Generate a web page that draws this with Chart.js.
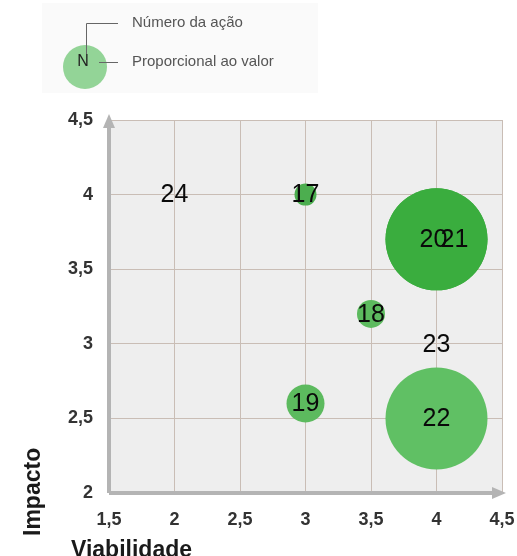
<!DOCTYPE html>
<html>
<head>
<meta charset="utf-8">
<script src="https://cdn.jsdelivr.net/npm/chart.js@4"></script>
<style>
  html, body { margin: 0; padding: 0; background: #fff; }
  #wrap { width: 517px; height: 556px; }
</style>
</head>
<body>
<div id="wrap"><canvas id="bubbleChart"></canvas></div>
<script>
// Ações (número), viabilidade (x), impacto (y), valor (raio da bolha)
const actions = ['17', '18', '19', '20', '21', '22', '23', '24'];
const viabilidade = [3, 3.5, 3, 4, 4, 4, 4, 2];
const impacto = [4, 3.2, 2.6, 3.7, 3.7, 2.5, 3, 4];
const valor = [11, 14, 19, 51, 51, 51, 0, 0];
const xTicks = [1.5, 2, 2.5, 3, 3.5, 4, 4.5];
const yTicks = [2, 2.5, 3, 3.5, 4, 4.5];

const bubbleColors = ['#4cae4f', '#5cba5e', '#5cba5e', '#3aad3e', '#3aad3e', '#60c064', '#5cba5e', '#5cba5e'];
// small nudges so "20" and "21" overlap like in the original
const labelShift = { '20': -3, '21': 18 };

const fmt = v => String(v).replace('.', ',');

const decorations = {
  id: 'decorations',
  beforeDraw(chart) {
    const { ctx, chartArea: a } = chart;
    ctx.save();
    ctx.fillStyle = '#fafafa';
    ctx.fillRect(42, 3, 276, 90);
    ctx.fillStyle = '#eeeeee';
    ctx.fillRect(a.left, a.top, a.right - a.left, a.bottom - a.top);
    ctx.restore();
  },
  afterDatasetsDraw(chart) {
    const { ctx, chartArea: a, scales } = chart;
    ctx.save();
    // axis lines with arrows
    ctx.strokeStyle = '#b4b4b4';
    ctx.fillStyle = '#b4b4b4';
    ctx.lineWidth = 4;
    ctx.beginPath();
    ctx.moveTo(a.left, a.bottom);
    ctx.lineTo(a.left, a.top + 4);
    ctx.moveTo(a.left, a.bottom);
    ctx.lineTo(a.right - 4, a.bottom);
    ctx.stroke();
    ctx.beginPath();
    ctx.moveTo(a.left, a.top - 6);
    ctx.lineTo(a.left - 6, a.top + 8);
    ctx.lineTo(a.left + 6, a.top + 8);
    ctx.closePath();
    ctx.fill();
    ctx.beginPath();
    ctx.moveTo(a.right + 4, a.bottom);
    ctx.lineTo(a.right - 10, a.bottom - 6);
    ctx.lineTo(a.right - 10, a.bottom + 6);
    ctx.closePath();
    ctx.fill();

    // bubble labels
    ctx.fillStyle = '#0a0a0a';
    ctx.font = '25px "Liberation Sans", Arial, sans-serif';
    ctx.textAlign = 'center';
    ctx.textBaseline = 'middle';
    actions.forEach((n, i) => {
      const x = scales.x.getPixelForValue(viabilidade[i]) + (labelShift[n] || 0);
      const y = scales.y.getPixelForValue(impacto[i]) + 1;
      ctx.fillText(n, x, y);
    });

    // axis titles
    ctx.fillStyle = '#1a1a1a';
    ctx.font = 'bold 23px "Liberation Sans", Arial, sans-serif';
    ctx.textAlign = 'left';
    ctx.textBaseline = 'alphabetic';
    ctx.fillText('Viabilidade', 71, 557);
    ctx.save();
    ctx.translate(40, 536);
    ctx.rotate(-Math.PI / 2);
    ctx.fillText('Impacto', 0, 0);
    ctx.restore();

    // legend key
    ctx.fillStyle = '#93d497';
    ctx.beginPath();
    ctx.arc(85, 67, 22, 0, Math.PI * 2);
    ctx.fill();
    ctx.fillStyle = '#222';
    ctx.font = '16px "Liberation Sans", Arial, sans-serif';
    ctx.textAlign = 'center';
    ctx.textBaseline = 'middle';
    ctx.fillText('N', 83, 62);
    ctx.strokeStyle = '#666';
    ctx.lineWidth = 1;
    ctx.beginPath();
    ctx.moveTo(86.5, 54);
    ctx.lineTo(86.5, 23.5);
    ctx.lineTo(118, 23.5);
    ctx.moveTo(99, 62.5);
    ctx.lineTo(118, 62.5);
    ctx.stroke();
    ctx.fillStyle = '#555';
    ctx.textAlign = 'left';
    ctx.font = '15px "Liberation Sans", Arial, sans-serif';
    ctx.fillText('Número da ação', 132, 23);
    ctx.fillText('Proporcional ao valor', 132, 62);
    ctx.restore();
  }
};

new Chart(document.getElementById('bubbleChart'), {
  type: 'bubble',
  data: {
    datasets: [{
      label: 'Ações',
      data: actions.map((n, i) => ({ x: viabilidade[i], y: impacto[i], r: valor[i] })),
      backgroundColor: bubbleColors,
      borderWidth: 0,
      hoverBorderWidth: 0
    }]
  },
  options: {
    responsive: true,
    maintainAspectRatio: false,
    animation: false,
    layout: { autoPadding: false, padding: { top: 120, right: 15, left: 0, bottom: 0 } },
    plugins: {
      legend: { display: false },
      tooltip: { enabled: false }
    },
    scales: {
      x: {
        type: 'linear',
        min: 1.5,
        max: 4.5,
        afterBuildTicks: s => { s.ticks = xTicks.map(v => ({ value: v })); },
        afterFit: s => { s.height = 63; s.paddingLeft = 0; s.paddingRight = 0; },
        border: { display: false },
        grid: { color: '#c9bdb5', lineWidth: 1, drawTicks: false },
        ticks: {
          padding: 16,
          color: '#333',
          font: { family: '"Liberation Sans", Arial, sans-serif', size: 18, weight: 'bold' },
          callback: v => fmt(v)
        }
      },
      y: {
        type: 'linear',
        min: 2,
        max: 4.5,
        afterBuildTicks: s => { s.ticks = yTicks.map(v => ({ value: v })); },
        afterFit: s => { s.width = 109; s.paddingTop = 0; s.paddingBottom = 0; },
        border: { display: false },
        grid: { color: '#c9bdb5', lineWidth: 1, drawTicks: false },
        ticks: {
          padding: 16,
          color: '#333',
          font: { family: '"Liberation Sans", Arial, sans-serif', size: 18, weight: 'bold' },
          callback: v => fmt(v)
        }
      }
    }
  },
  plugins: [decorations]
});
</script>
</body>
</html>
